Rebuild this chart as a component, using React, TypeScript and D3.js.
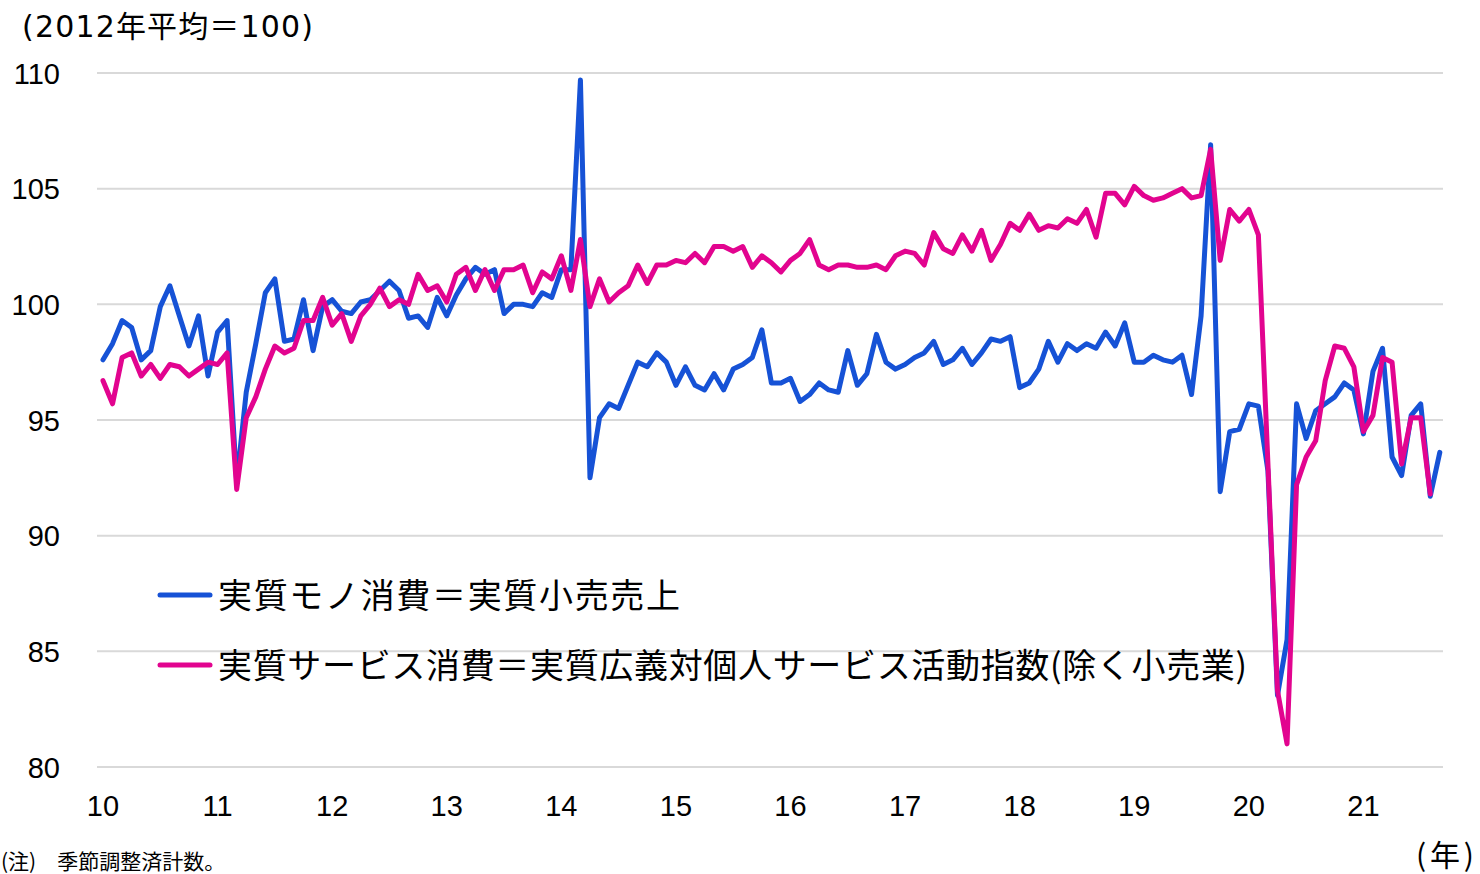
import * as d3 from "d3";

// 2010年1月〜2021年9月（月次、2012年平均＝100）
const yearLabels = ["10", "11", "12", "13", "14", "15", "16", "17", "18", "19", "20", "21"];
const yTicks = [80, 85, 90, 95, 100, 105, 110];

// 実質モノ消費（実質小売売上）
const goods = [
  97.6, 98.3, 99.3, 99.0, 97.6, 98.0, 99.9, 100.8, 99.5, 98.2, 99.5, 96.9,
  98.8, 99.3, 92.3, 96.2, 98.3, 100.5, 101.1, 98.4, 98.5, 100.2, 98.0, 99.9,
  100.2, 99.7, 99.6, 100.1, 100.2, 100.6, 101.0, 100.6, 99.4, 99.5, 99.0, 100.3,
  99.5, 100.4, 101.1, 101.6, 101.3, 101.5, 99.6, 100.0, 100.0, 99.9, 100.5, 100.3,
  101.5, 101.5, 109.7, 92.5, 95.1, 95.7, 95.5, 96.5, 97.5, 97.3, 97.9, 97.5,
  96.5, 97.3, 96.5, 96.3, 97.0, 96.3, 97.2, 97.4, 97.7, 98.9, 96.6, 96.6,
  96.8, 95.8, 96.1, 96.6, 96.3, 96.2, 98.0, 96.5, 97.0, 98.7, 97.5, 97.2,
  97.4, 97.7, 97.9, 98.4, 97.4, 97.6, 98.1, 97.4, 97.9, 98.5, 98.4, 98.6,
  96.4, 96.6, 97.2, 98.4, 97.5, 98.3, 98.0, 98.3, 98.1, 98.8, 98.2, 99.2,
  97.5, 97.5, 97.8, 97.6, 97.5, 97.8, 96.1, 99.5, 106.9, 91.9, 94.5, 94.6,
  95.7, 95.6, 92.8, 83.1, 85.5, 95.7, 94.2, 95.4, 95.7, 96.0, 96.6, 96.3,
  94.4, 97.1, 98.1, 93.4, 92.6, 95.2, 95.7, 91.7, 93.6,
];

// 実質サービス消費（実質広義対個人サービス活動指数・除く小売業）
const services = [
  96.7, 95.7, 97.7, 97.9, 96.9, 97.4, 96.8, 97.4, 97.3, 96.9, 97.2, 97.5,
  97.4, 97.9, 92.0, 95.1, 96.0, 97.2, 98.2, 97.9, 98.1, 99.3, 99.3, 100.3,
  99.1, 99.6, 98.4, 99.5, 100.0, 100.7, 99.9, 100.2, 100.0, 101.3, 100.6, 100.8,
  100.1, 101.3, 101.6, 100.6, 101.5, 100.6, 101.5, 101.5, 101.7, 100.5, 101.4, 101.1,
  102.1, 100.6, 102.8, 99.9, 101.1, 100.1, 100.5, 100.8, 101.7, 100.9, 101.7, 101.7,
  101.9, 101.8, 102.2, 101.8, 102.5, 102.5, 102.3, 102.5, 101.6, 102.1, 101.8, 101.4,
  101.9, 102.2, 102.8, 101.7, 101.5, 101.7, 101.7, 101.6, 101.6, 101.7, 101.5, 102.1,
  102.3, 102.2, 101.7, 103.1, 102.4, 102.2, 103.0, 102.3, 103.2, 101.9, 102.6, 103.5,
  103.2, 103.9, 103.2, 103.4, 103.3, 103.7, 103.5, 104.1, 102.9, 104.8, 104.8, 104.3,
  105.1, 104.7, 104.5, 104.6, 104.8, 105.0, 104.6, 104.7, 106.7, 101.9, 104.1, 103.6,
  104.1, 103.0, 93.1, 83.3, 81.0, 92.2, 93.4, 94.1, 96.7, 98.2, 98.1, 97.3,
  94.5, 95.2, 97.7, 97.5, 93.1, 95.1, 95.1, 91.8,
];

const legendGoods = "実質モノ消費＝実質小売売上";
const legendServices = "実質サービス消費＝実質広義対個人サービス活動指数(除く小売業)";

const W = 1480;
const H = 874;
const BLUE = "#1652d6";
const PINK = "#e2048f";
const jpFont = "'Noto Sans CJK JP', 'Noto Sans', sans-serif";
const numFont = "'Liberation Sans', Arial, sans-serif";
const wideNum = "'DejaVu Sans', 'Liberation Sans', sans-serif";

export default function App() {
  const x = d3.scaleLinear().domain([0, 144]).range([103, 1478]);
  const y = d3.scaleLinear().domain([80, 110]).range([767, 73]);

  const line = d3
    .line<number>()
    .x((_, i) => x(i))
    .y((d) => y(d));

  return (
    <div style={{ position: "absolute", left: 0, top: 0 }}>
      <svg width={W} height={H} viewBox={`0 0 ${W} ${H}`} style={{ display: "block", background: "#fff" }}>
        {yTicks.map((t) => (
          <g key={t}>
            <line x1={97} x2={1443} y1={y(t)} y2={y(t)} stroke="#d9d9d9" strokeWidth={2} />
            <text x={60} y={y(t) + 10.5} fontSize={29} fontFamily={numFont} textAnchor="end" fill="#000">
              {t}
            </text>
          </g>
        ))}

        {yearLabels.map((lab, i) => (
          <text
            key={lab}
            x={x(i * 12)}
            y={816}
            fontSize={29}
            fontFamily={numFont}
            textAnchor="middle"
            fill="#000"
          >
            {lab}
          </text>
        ))}

        <path d={line(goods) ?? ""} fill="none" stroke={BLUE} strokeWidth={5} strokeLinejoin="round" strokeLinecap="round" />
        <path d={line(services) ?? ""} fill="none" stroke={PINK} strokeWidth={5} strokeLinejoin="round" strokeLinecap="round" />

        <text x={22} y={37} fontSize={30} fill="#000" textLength={291} lengthAdjust="spacing">
          <tspan fontFamily={wideNum}>(2012</tspan>
          <tspan fontFamily={jpFont}>年平均＝</tspan>
          <tspan fontFamily={wideNum}>100)</tspan>
        </text>

        <line x1={160} x2={210} y1={595} y2={595} stroke={BLUE} strokeWidth={5} strokeLinecap="round" />
        <text x={218} y={608} fontSize={34} fontFamily={jpFont} fill="#000" textLength={462} lengthAdjust="spacing">
          {legendGoods}
        </text>
        <line x1={160} x2={210} y1={665} y2={665} stroke={PINK} strokeWidth={5} strokeLinecap="round" />
        <text x={218} y={678} fontSize={34} fontFamily={jpFont} fill="#000" textLength={1029} lengthAdjust="spacing">
          {legendServices}
        </text>

        <text x={1416} y={866} fontSize={30} fontFamily={jpFont} fill="#000" textLength={58} lengthAdjust="spacing">
          (年)
        </text>
        <text x={1} y={869} fontSize={21} fontFamily={jpFont} fill="#000">
          (注)　季節調整済計数。
        </text>
      </svg>
    </div>
  );
}
